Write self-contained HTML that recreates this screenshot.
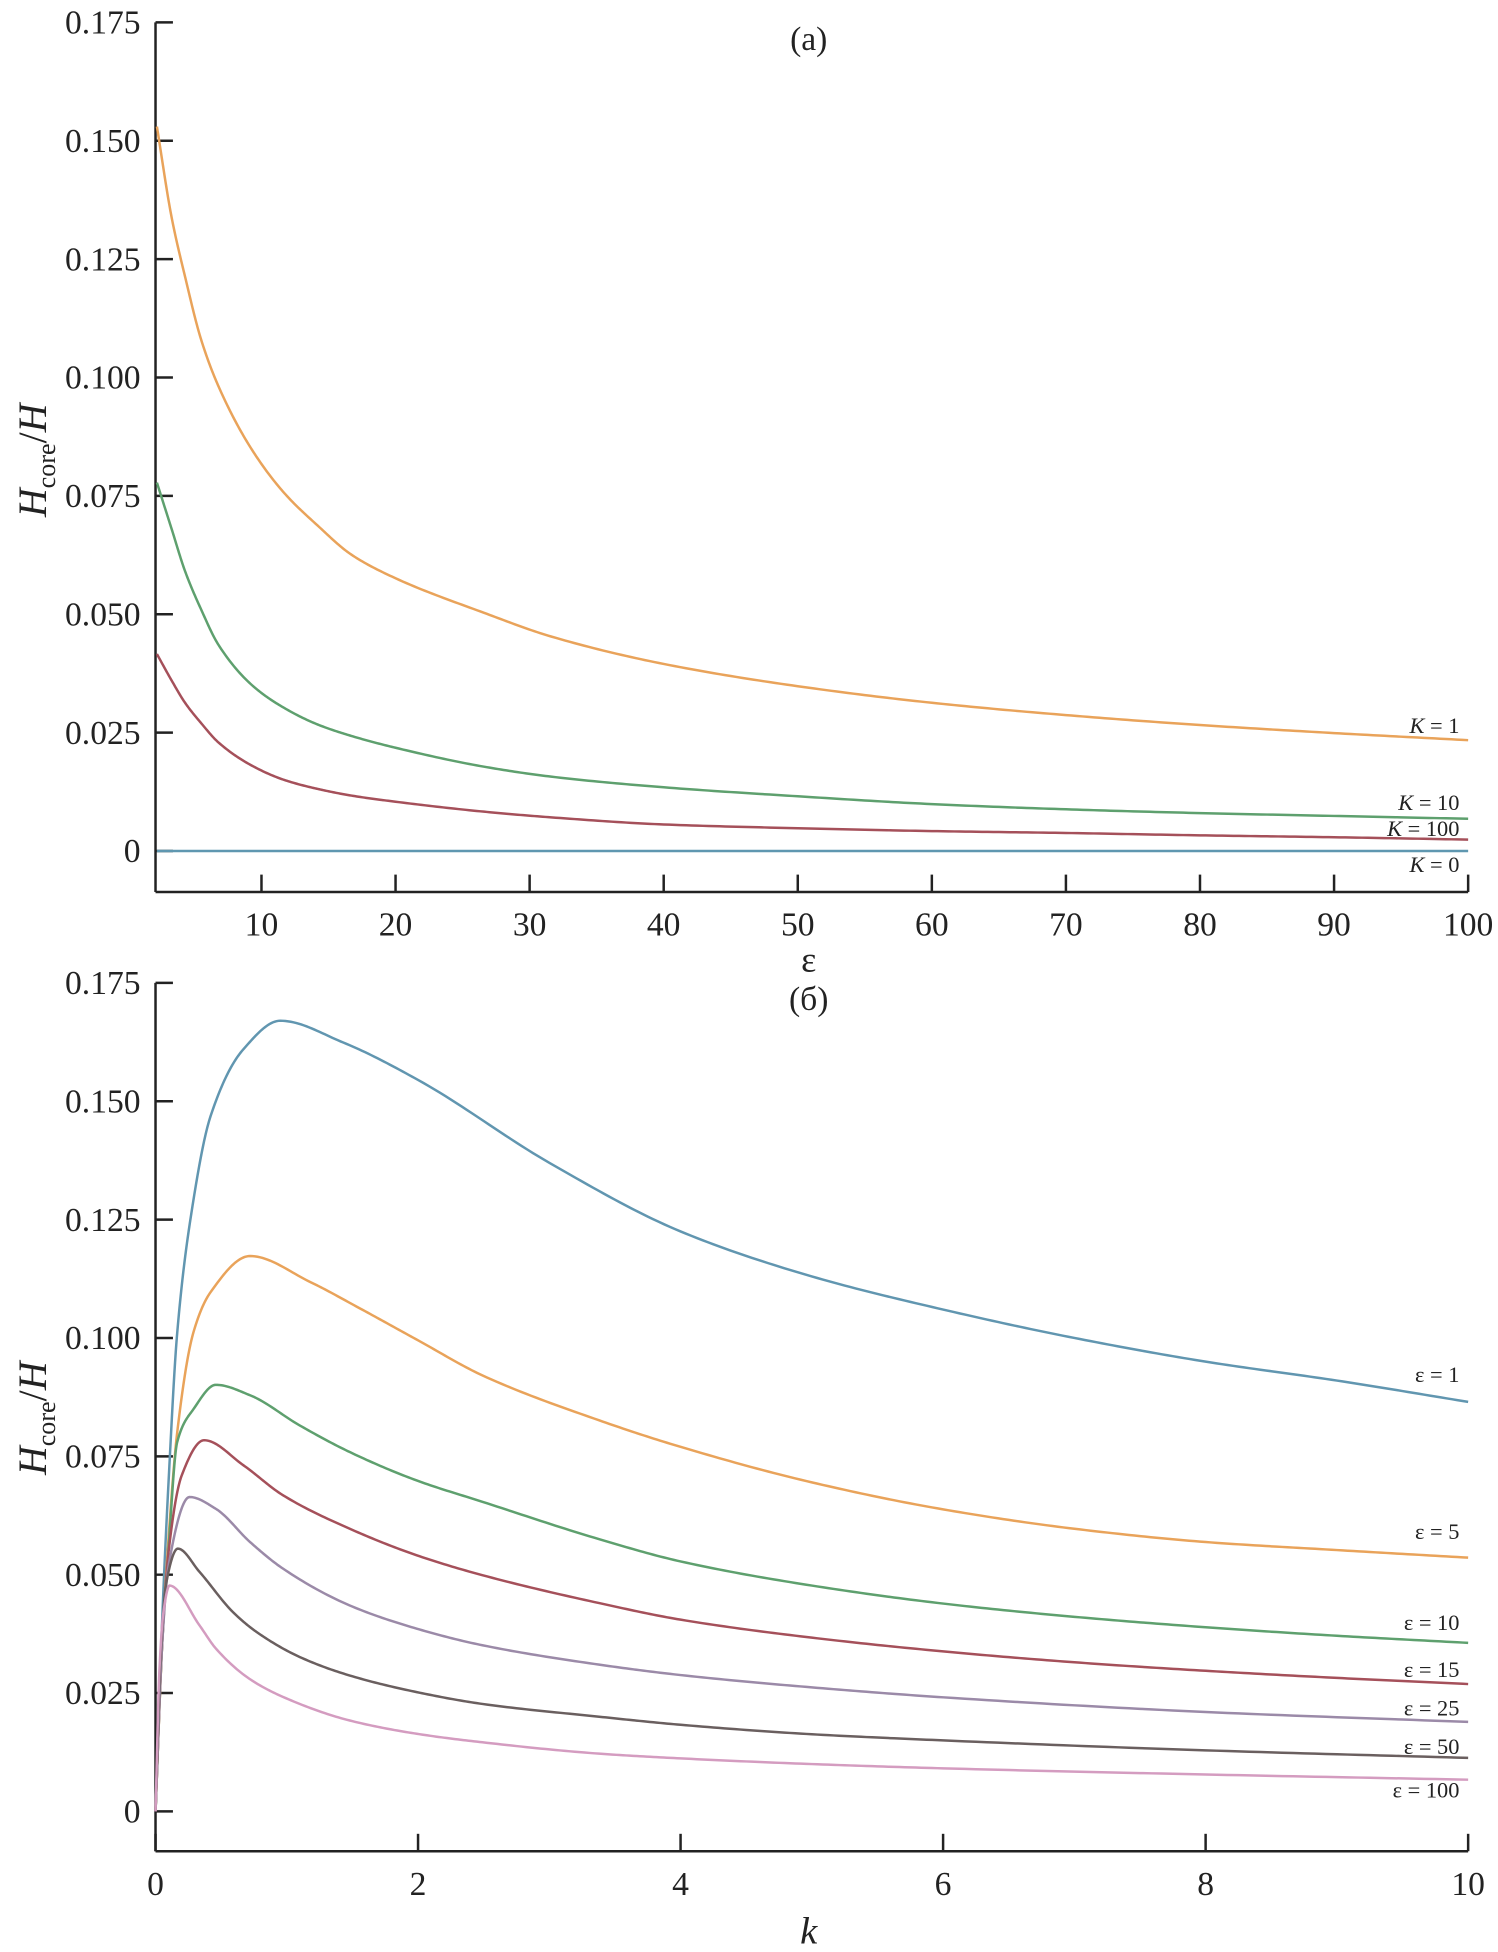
<!DOCTYPE html>
<html><head><meta charset="utf-8"><style>
html,body{margin:0;padding:0;background:#fff}
svg{display:block}
text{font-family:"Liberation Serif",serif;fill:#222}
</style></head><body>
<svg id="chart" width="1498" height="1952" viewBox="0 0 1204 1569" preserveAspectRatio="none" xmlns="http://www.w3.org/2000/svg">
<g id="axes"></g><g id="series"></g><g id="labels"></g>
</svg>
<script>
// Panel (a): H_core/H vs epsilon
const epsA = [2.2,3.3,4.3,5.5,6.8,9.3,11.7,14.2,16.7,20,26.6,31.6,40,50,60,70,80,90,100];
const aK1   = [0.153,0.1338,0.1213,0.108,0.0981,0.0847,0.0756,0.0687,0.0626,0.0576,0.0503,0.0453,0.0395,0.0348,0.0313,0.0287,0.0266,0.0249,0.0234];
const aK10  = [0.0778,0.068,0.0591,0.051,0.0435,0.035,0.0302,0.0267,0.0243,0.0218,0.0178,0.0157,0.01345,0.01155,0.0099,0.0088,0.0080,0.0074,0.0068];
const aK100 = [0.0416,0.036,0.0313,0.027,0.0229,0.0180,0.0150,0.0131,0.0117,0.0104,0.0083,0.0071,0.0056,0.0048,0.0042,0.0038,0.0033,0.0029,0.0024];
const aK0   = [0,0,0,0,0,0,0,0,0,0,0,0,0,0,0,0,0,0,0];
const aXTicks = [10,20,30,40,50,60,70,80,90,100];
const yTicks = [0,0.025,0.05,0.075,0.1,0.125,0.15,0.175];
const yTickLabels = ["0","0.025","0.050","0.075","0.100","0.125","0.150","0.175"];
// Panel (b): H_core/H vs k
const kE1 = [0,0.05,0.1,0.165,0.27,0.42,0.67,0.95,1.43,2,3,4,5,6,7,8,9,10];
const bE1 = [0,0.04,0.07,0.101,0.1258,0.1469,0.161,0.167,0.1624,0.1545,0.137,0.1225,0.113,0.106,0.100,0.095,0.091,0.0865];
const kE5 = [0,0.05,0.1,0.165,0.29,0.42,0.72,1.18,1.56,2,2.49,3.38,4,5,6,7,8,9,10];
const bE5 = [0,0.035,0.058,0.08,0.1013,0.1097,0.1173,0.1118,0.1062,0.0995,0.0921,0.0826,0.0770,0.0695,0.0638,0.0597,0.0569,0.0552,0.0536];
const kE10 = [0,0.05,0.1,0.165,0.29,0.46,0.72,1.1,1.48,1.99,2.49,3.38,4,5,6,7,8,9,10];
const bE10 = [0,0.035,0.056,0.078,0.085,0.0901,0.0879,0.0815,0.0759,0.0699,0.0654,0.0575,0.0528,0.0477,0.0439,0.0411,0.0389,0.0371,0.0356];
const kE15 = [0,0.05,0.1,0.2,0.37,0.67,0.97,1.48,1.99,2.49,3.38,4,5,6,7,8,9,10];
const bE15 = [0,0.035,0.055,0.071,0.0784,0.0731,0.0668,0.0597,0.0541,0.0499,0.0440,0.0405,0.0367,0.0338,0.0315,0.0297,0.0282,0.0269];
const kE25 = [0,0.05,0.1,0.26,0.46,0.72,0.97,1.48,1.99,2.49,3.38,4,5,6,8,10];
const bE25 = [0,0.035,0.052,0.0664,0.0639,0.0569,0.0513,0.0435,0.0386,0.0351,0.031,0.0288,0.0262,0.0241,0.0210,0.0189];
const kE50 = [0,0.04,0.08,0.17,0.335,0.59,0.77,1.1,1.48,1.99,2.49,3.38,4,5,6,8,10];
const bE50 = [0,0.033,0.048,0.0555,0.0506,0.0421,0.0379,0.0326,0.0287,0.0252,0.0227,0.0200,0.0183,0.0163,0.0150,0.0129,0.0113];
const kE100 = [0,0.03,0.06,0.107,0.335,0.46,0.716,0.97,1.48,1.99,2.49,3.38,4,5,6,8,10];
const bE100 = [0,0.03,0.042,0.0477,0.0393,0.0344,0.028,0.0242,0.0192,0.0164,0.0146,0.0122,0.0112,0.0100,0.0091,0.0078,0.0067];
const bXTicks = [0,2,4,6,8,10];

const NS="http://www.w3.org/2000/svg";
function mk(tag,attrs,parent){const e=document.createElementNS(NS,tag);for(const k in attrs)e.setAttribute(k,attrs[k]);parent.appendChild(e);return e;}
const axesG=document.getElementById('axes'),serG=document.getElementById('series'),labG=document.getElementById('labels');

const xA=v=>102.4+(v/10)*107.76;
const yA=v=>684-(v/0.025)*95.14;
const xB=v=>125+(v/10)*1055;
const yB=v=>1456-(v/0.025)*95.14;

function path(xs,ys,sx,sy){
  const n=xs.length,d=[],m=new Array(n);
  for(let i=0;i<n-1;i++)d.push((ys[i+1]-ys[i])/(xs[i+1]-xs[i]));
  m[0]=d[0];m[n-1]=d[n-2];
  for(let i=1;i<n-1;i++){
    if(d[i-1]*d[i]<=0)m[i]=0;
    else{const h0=xs[i]-xs[i-1],h1=xs[i+1]-xs[i];const w1=2*h1+h0,w2=h1+2*h0;m[i]=(w1+w2)/(w1/d[i-1]+w2/d[i]);}
  }
  let s="M"+sx(xs[0]).toFixed(2)+","+sy(ys[0]).toFixed(2);
  for(let i=0;i<n-1;i++){
    const h=xs[i+1]-xs[i],N=24;
    for(let j=1;j<=N;j++){
      const t=j/N,t2=t*t,t3=t2*t;
      const v=(2*t3-3*t2+1)*ys[i]+(t3-2*t2+t)*h*m[i]+(-2*t3+3*t2)*ys[i+1]+(t3-t2)*h*m[i+1];
      s+=" L"+sx(xs[i]+t*h).toFixed(2)+","+sy(v).toFixed(2);
    }
  }
  return s;
}

function drawAxes(panel,top,bottom,sx,sy,xticks,xlabY){
  const l=mk('line',{x1:125,y1:top,x2:125,y2:bottom,stroke:'#222','stroke-width':2},axesG);
  
  
  const b=mk('line',{x1:125,y1:bottom,x2:1180,y2:bottom,stroke:'#222','stroke-width':2},axesG);
  
  
  yTicks.forEach((v,i)=>{
    const y=sy(v);
    const t=mk('line',{x1:125,y1:y,x2:139,y2:y,stroke:'#222','stroke-width':2},axesG);
    
    
    const tx=mk('text',{x:113,y:y+9,'text-anchor':'end','font-size':27},labG);
    tx.textContent=yTickLabels[i];
    
    
  });
  xticks.forEach(v=>{
    const x=sx(v);
    const t=mk('line',{x1:x,y1:bottom,x2:x,y2:bottom-14,stroke:'#222','stroke-width':2},axesG);
    
    
    const tx=mk('text',{x:x,y:xlabY,'text-anchor':'middle','font-size':27},labG);
    tx.textContent=String(v);
    
    
  });
}
drawAxes('panel-a',18,717,xA,yA,aXTicks,752);
drawAxes('panel-b',790,1488,xB,yB,bXTicks,1523);

function series(name,xs,ys,sx,sy,color,label,ly,italicK){
  const p=mk('path',{d:path(xs,ys,sx,sy),fill:'none',stroke:color,'stroke-width':2},serG);
  
  
  const t=mk('text',{x:1173,y:ly,'text-anchor':'end','font-size':18},labG);
  if(italicK){t.innerHTML='<tspan font-style="italic">K</tspan>'+label;}else{t.textContent=label;}
  
  
}
series('series-a-k1',epsA,aK1,xA,yA,'#e9a35a',' = 1',589,true);
series('series-a-k10',epsA,aK10,xA,yA,'#5ea06e',' = 10',651,true);
series('series-a-k100',epsA,aK100,xA,yA,'#a5505a',' = 100',672,true);
series('series-a-k0',epsA,aK0,xA,yA,'#5f97b0',' = 0',701,true);

series('series-b-eps1',kE1,bE1,xB,yB,'#6196b0','ε = 1',1111,false);
series('series-b-eps5',kE5,bE5,xB,yB,'#e9a35a','ε = 5',1237,false);
series('series-b-eps10',kE10,bE10,xB,yB,'#5ea06e','ε = 10',1310,false);
series('series-b-eps15',kE15,bE15,xB,yB,'#a5505a','ε = 15',1348,false);
series('series-b-eps25',kE25,bE25,xB,yB,'#9b8aa8','ε = 25',1379,false);
series('series-b-eps50',kE50,bE50,xB,yB,'#6a5f5f','ε = 50',1410,false);
series('series-b-eps100',kE100,bE100,xB,yB,'#d49cc0','ε = 100',1445,false);
</script>
<svg style="position:absolute;left:0;top:0" width="1498" height="1952" viewBox="0 0 1204 1569" preserveAspectRatio="none" xmlns="http://www.w3.org/2000/svg">
<text x="650" y="40" text-anchor="middle" font-size="27">(a)</text>
<text x="650" y="812" text-anchor="middle" font-size="27">(б)</text>
<text x="650" y="781" text-anchor="middle" font-size="29">ε</text>
<text x="650" y="1562" text-anchor="middle" font-size="31" font-style="italic">k</text>
<text transform="translate(37,370) rotate(-90)" text-anchor="middle" font-size="32"><tspan font-style="italic">H</tspan><tspan font-size="21" dy="7">core</tspan><tspan dy="-7">/</tspan><tspan font-style="italic">H</tspan></text>
<text transform="translate(37,1140) rotate(-90)" text-anchor="middle" font-size="32"><tspan font-style="italic">H</tspan><tspan font-size="21" dy="7">core</tspan><tspan dy="-7">/</tspan><tspan font-style="italic">H</tspan></text>
</svg>
</body></html>
